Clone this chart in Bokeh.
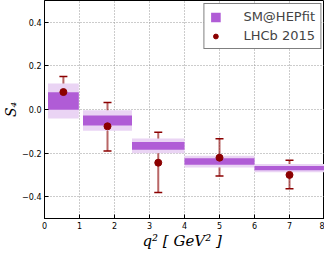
from bokeh.plotting import figure
from bokeh.models import ColumnDataSource, FixedTicker, Whisker, TeeHead, Legend, LegendItem, Range1d
from bokeh.embed import file_html
from bokeh.resources import INLINE

# SM@HEPfit bins
bin_lo = [0.1, 1.1, 2.5, 4.0, 6.0]
bin_hi = [0.98, 2.5, 4.0, 6.0, 8.0]
sm_central = [0.039, -0.050, -0.167, -0.239, -0.269]
sm_inner = [0.040, 0.023, 0.018, 0.015, 0.010]
sm_outer = [0.080, 0.047, 0.034, 0.027, 0.019]

# LHCb 2015 measurements
lhcb_x = [0.54, 1.8, 3.25, 5.0, 7.0]
lhcb_y = [0.080, -0.077, -0.244, -0.221, -0.300]
lhcb_up = [0.071, 0.109, 0.140, 0.087, 0.067]
lhcb_down = [0.068, 0.113, 0.137, 0.084, 0.064]

x_ticks = [0, 1, 2, 3, 4, 5, 6, 7, 8]
y_ticks = [-0.4, -0.2, 0.0, 0.2, 0.4]
y_tick_labels = ["\u22120.4", "\u22120.2", "0.0", "0.2", "0.4"]

sm_src = ColumnDataSource(dict(
    left=bin_lo, right=bin_hi,
    outer_top=[c + e for c, e in zip(sm_central, sm_outer)],
    outer_bot=[c - e for c, e in zip(sm_central, sm_outer)],
    inner_top=[c + e for c, e in zip(sm_central, sm_inner)],
    inner_bot=[c - e for c, e in zip(sm_central, sm_inner)],
))
lhcb_src = ColumnDataSource(dict(
    x=lhcb_x, y=lhcb_y,
    upper=[y + u for y, u in zip(lhcb_y, lhcb_up)],
    lower=[y - d for y, d in zip(lhcb_y, lhcb_down)],
))

p = figure(width=324, height=252, output_backend="svg", toolbar_location=None,
           x_range=Range1d(0, 8), y_range=Range1d(-0.5, 0.5),
           min_border_left=30, min_border_right=0, min_border_top=0, min_border_bottom=20)

p.outline_line_color = "black"
p.outline_line_width = 1
p.background_fill_color = "white"
p.border_fill_color = "white"

outer = p.quad(left="left", right="right", bottom="outer_bot", top="outer_top", source=sm_src,
               fill_color="#ead4f4", line_color=None)
inner = p.quad(left="left", right="right", bottom="inner_bot", top="inner_top", source=sm_src,
               fill_color="#b05cd6", line_color=None)

whisk = Whisker(source=lhcb_src, base="x", upper="upper", lower="lower",
                line_color="#8b0000", line_alpha=0.6, line_width=2,
                upper_head=TeeHead(size=8, line_color="#8b0000", line_width=1.5),
                lower_head=TeeHead(size=8, line_color="#8b0000", line_width=1.5))
p.add_layout(whisk)
pts = p.scatter(x="x", y="y", source=lhcb_src, size=7, marker="circle",
                fill_color="#8b0000", line_color="#8b0000")

p.xaxis.ticker = FixedTicker(ticks=x_ticks)
p.yaxis.ticker = FixedTicker(ticks=y_ticks)
p.yaxis.major_label_overrides = {t: l for t, l in zip(y_ticks, y_tick_labels)}

for ax in (p.xaxis, p.yaxis):
    ax.major_label_text_font = "DejaVu Sans"
    ax.major_label_text_font_size = "8px"
    ax.major_label_text_color = "black"
    ax.axis_line_color = "black"
    ax.major_tick_in = 4
    ax.major_tick_out = 0
    ax.minor_tick_line_color = None
    ax.major_tick_line_color = "black"
    ax.axis_label_text_font = "DejaVu Serif"
    ax.axis_label_text_font_style = "italic"
    ax.axis_label_text_color = "black"
    ax.major_label_standoff = 3
    ax.axis_label_standoff = 0

p.xaxis.axis_label = "q\u00b2  [ GeV\u00b2 ]"
p.yaxis.axis_label = "S\u2084"
p.xaxis.axis_label_text_font_size = "15px"
p.yaxis.axis_label_text_font_size = "14px"

for g in (p.xgrid, p.ygrid):
    g.grid_line_color = "#999999"
    g.grid_line_dash = "1 2"
    g.grid_line_width = 1
p.xgrid.ticker = FixedTicker(ticks=x_ticks)
p.ygrid.ticker = FixedTicker(ticks=y_ticks)

legend = Legend(items=[
    LegendItem(label="SM@HEPfit", renderers=[inner]),
    LegendItem(label="LHCb 2015", renderers=[pts]),
], location="top_right")
legend.label_text_font = "DejaVu Sans"
legend.label_text_font_size = "13px"
legend.border_line_color = "black"
legend.border_line_width = 1
legend.background_fill_alpha = 1
legend.glyph_width = 12
legend.glyph_height = 12
legend.label_standoff = 22
legend.padding = 5
legend.spacing = 4
legend.margin = 3
legend.label_height = 14
p.add_layout(legend)

open("out.html", "w").write(file_html(p, INLINE))
